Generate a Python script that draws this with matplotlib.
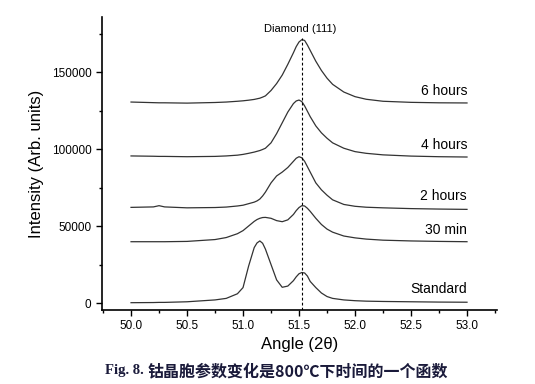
import matplotlib.pyplot as plt
from matplotlib.ticker import MultipleLocator

# 2theta grid (degrees) and XRD intensities (in thousands)
angle = [50.0, 50.2, 50.25, 50.3, 50.5, 50.75, 50.85, 50.95,
         51.0, 51.05, 51.1, 51.125, 51.15, 51.175, 51.2, 51.25, 51.3,
         51.35, 51.4, 51.45, 51.475, 51.5, 51.525, 51.55, 51.575,
         51.6, 51.65, 51.7, 51.75, 51.8,
         51.9, 52.0, 52.1, 52.25, 52.5, 52.75, 53.0]

standard = [0.2, 0.3, 0.4, 0.4, 0.8, 2.0, 3.0, 6.0,
            10.0, 24.0, 36.0, 39.0, 40.3, 38.8, 35.0, 25.0, 15.0,
            10.2, 11.0, 14.5, 17.0, 19.0, 19.8, 19.5, 17.5,
            14.0, 10.0, 6.5, 4.2, 3.0,
            2.0, 1.5, 1.2, 1.0, 0.8, 0.6, 0.5]
min30 = [39.8, 39.8, 39.8, 39.8, 40.0, 41.2, 42.5, 45.0,
         47.0, 50.0, 53.0, 54.2, 55.0, 55.5, 55.6, 55.0, 53.5,
         52.8, 54.0, 57.5, 60.0, 62.0, 63.2, 63.0, 61.5,
         59.5, 55.0, 51.0, 48.0, 46.0,
         43.5, 42.3, 41.5, 40.8, 40.3, 40.0, 39.8]
hours2 = [62.1, 62.4, 63.2, 62.4, 61.8, 62.0, 62.3, 63.0,
          63.5, 64.5, 65.5, 66.3, 67.5, 69.5, 72.0, 78.0, 82.5,
          85.0, 88.0, 92.0, 94.0, 95.0, 94.3, 92.0, 88.5,
          85.0, 78.0, 73.5, 70.0, 67.0,
          64.0, 62.8, 62.2, 61.8, 61.3, 61.0, 60.8]
hours4 = [95.5, 95.3, 95.2, 95.2, 95.0, 95.2, 95.5, 96.0,
          96.5, 97.2, 98.0, 98.5, 99.0, 99.7, 100.5, 104.0, 110.0,
          117.0, 124.0, 129.5, 131.2, 131.8, 130.8, 128.0, 124.5,
          121.0, 115.0, 110.5, 107.0, 104.0,
          100.5, 98.3, 97.2, 96.2, 95.4, 95.0, 94.8]
hours6 = [130.5, 130.1, 130.0, 130.0, 129.8, 130.2, 130.5, 131.0,
          131.3, 131.7, 132.2, 132.6, 133.0, 133.7, 134.5, 138.0, 142.5,
          148.0, 155.0, 162.5, 166.5, 169.5, 171.0, 170.5, 167.5,
          164.0, 157.0, 151.0, 146.0, 142.0,
          137.0, 134.0, 132.3, 131.0, 130.3, 130.0, 129.9]

series = [standard, min30, hours2, hours4, hours6]
labels = ['Standard', '30 min', '2 hours', '4 hours', '6 hours']
label_y = [8800, 47400, 69400, 102800, 137900]
diamond_pos = 51.53

plt.rcParams['font.family'] = ['Liberation Sans', 'DejaVu Sans']

fig = plt.figure(figsize=(5.35, 3.84), dpi=100)
ax = fig.add_axes([0.1907, 0.1927, 0.7383, 0.763])

for vals in series:
    ax.plot(angle, [v * 1000 for v in vals], color='#333333', lw=0.9)

for lab, ly in zip(labels, label_y):
    ax.text(53.0, ly, lab, ha='right', va='center', fontsize=10)

ax.plot([diamond_pos, diamond_pos], [-4545, 172000], color='black',
        lw=0.8, ls=(0, (2.5, 2)))
ax.text(diamond_pos - 0.02, 177900, 'Diamond (111)', ha='center',
        va='center', fontsize=8)

ax.set_xlim(49.741, 53.268)
ax.set_ylim(-4545, 185714)
ax.xaxis.set_major_locator(MultipleLocator(0.5))
ax.xaxis.set_minor_locator(MultipleLocator(0.25))
ax.yaxis.set_major_locator(MultipleLocator(50000))
ax.yaxis.set_minor_locator(MultipleLocator(25000))
ax.xaxis.set_major_formatter(lambda v, p: f'{v:.1f}')
ax.tick_params(which='major', direction='out', length=4, width=1, labelsize=8.5)
ax.tick_params(which='minor', direction='out', length=2.5, width=1)
ax.spines['top'].set_visible(False)
ax.spines['right'].set_visible(False)
ax.spines['left'].set_linewidth(1.2)
ax.spines['bottom'].set_linewidth(1.2)

ax.set_xlabel('Angle (2θ)', fontsize=12, labelpad=3)
ax.set_ylabel('Intensity (Arb. units)', fontsize=12, labelpad=6)

fig.text(0.196, 0.034, 'Fig. 8.', family='Liberation Serif',
         fontweight='bold', fontsize=10.5, color='#1a1a3a', va='center')
fig.text(0.275, 0.034, '钴晶胞参数变化是800℃下时间的一个函数',
         family=['Noto Sans CJK SC', 'DejaVu Sans'], fontweight='bold',
         fontsize=11.5, color='#1a1a3a', va='center')

plt.savefig('out.png', dpi=100)
